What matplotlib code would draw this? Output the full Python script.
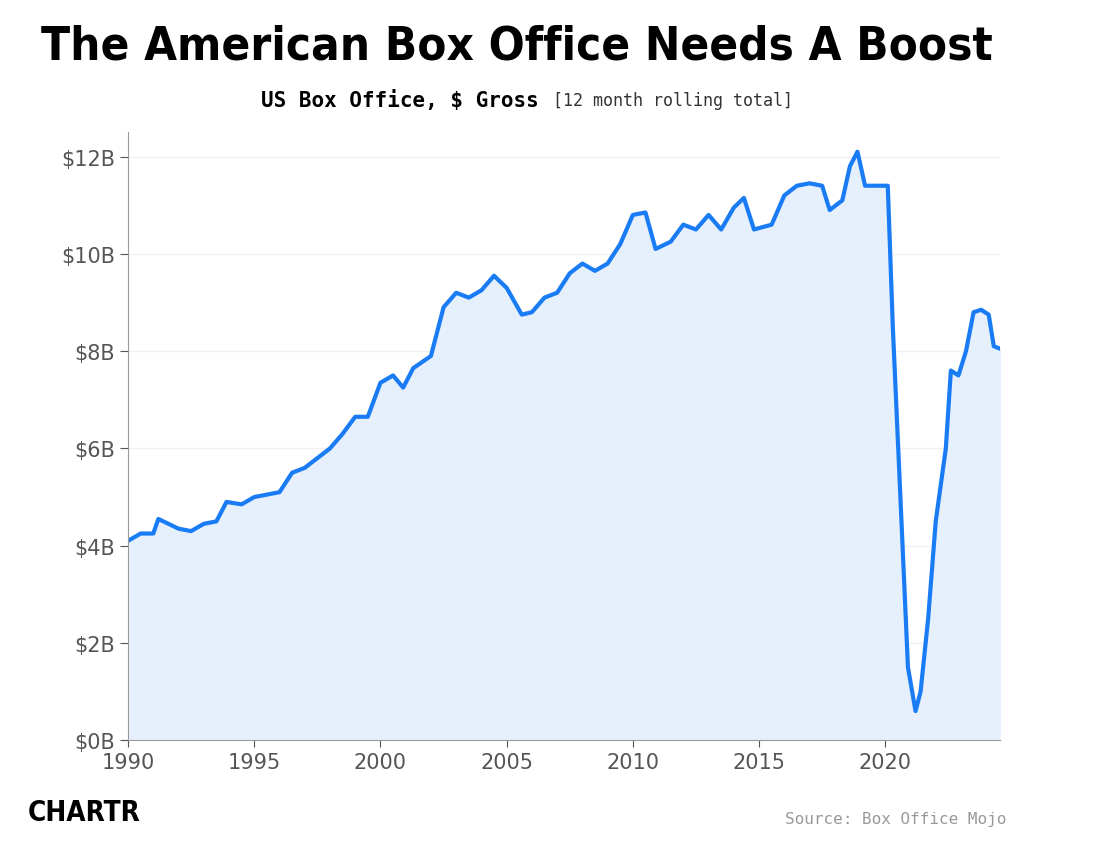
import matplotlib
matplotlib.use("Agg")
import matplotlib.pyplot as plt

years = [1990,1990.5,1991,1991.2,1991.6,1992,1992.5,1993,1993.5,1993.9,1994.5,1995,1995.5,1996,1996.5,1997,1997.5,1998,1998.5,1999,1999.5,2000,2000.5,2000.9,2001.3,2002,2002.5,2003,2003.5,2004,2004.5,2005,2005.6,2006,2006.5,2007,2007.5,2008,2008.5,2009,2009.5,2010,2010.5,2010.9,2011.5,2012,2012.5,2013,2013.5,2014,2014.4,2014.8,2015.5,2016,2016.5,2017,2017.5,2017.8,2018.3,2018.6,2018.9,2019.2,2019.6,2020.1,2020.3,2020.6,2020.9,2021.2,2021.4,2021.7,2022,2022.4,2022.6,2022.9,2023.2,2023.5,2023.8,2024.1,2024.3,2024.55]
gross = [4.1,4.25,4.25,4.55,4.45,4.35,4.3,4.45,4.5,4.9,4.85,5.0,5.05,5.1,5.5,5.6,5.8,6.0,6.3,6.65,6.65,7.35,7.5,7.25,7.65,7.9,8.9,9.2,9.1,9.25,9.55,9.3,8.75,8.8,9.1,9.2,9.6,9.8,9.65,9.8,10.2,10.8,10.85,10.1,10.25,10.6,10.5,10.8,10.5,10.95,11.15,10.5,10.6,11.2,11.4,11.45,11.4,10.9,11.1,11.8,12.1,11.4,11.4,11.4,8.5,5.0,1.5,0.6,1.0,2.5,4.5,6.0,7.6,7.5,8.0,8.8,8.85,8.75,8.1,8.05]
xticks = [1990,1995,2000,2005,2010,2015,2020]
yticks = [0,2,4,6,8,10,12]

fig = plt.figure(figsize=(11,8.54), dpi=100)
ax = fig.add_axes([0.1164, 0.132, 0.793, 0.712])
ax.fill_between(years, gross, 0, color="#e6f0fd")
ax.plot(years, gross, color="#1a7cf5", lw=3, solid_joinstyle="round")
ax.set_xlim(1990, 2024.56)
ax.set_ylim(0, 12.5)
ax.set_xticks(xticks)
ax.set_yticks(yticks)
ax.set_yticklabels([f"${v}B" for v in yticks])
for s in ["top","right"]:
    ax.spines[s].set_visible(False)
for s in ["left","bottom"]:
    ax.spines[s].set_color("#999999")
ax.grid(axis="y", color="#f0f0f0", lw=1)
ax.set_axisbelow(True)
ax.tick_params(labelsize=15, colors="#555555", labelcolor="#555555")
ax.tick_params(axis="y", length=6)
ax.tick_params(axis="x", length=5)

fig.text(0.470, 0.945, "The American Box Office Needs A Boost", ha="center", va="center",
         fontsize=34, fontweight="bold", family="DejaVu Sans", fontstretch="condensed")
fig.text(0.49, 0.882, r"US Box Office, \$ Gross", ha="right", va="center", fontsize=15,
         fontweight="bold", family="DejaVu Sans Mono")
fig.text(0.503, 0.882, "[12 month rolling total]", ha="left", va="center", fontsize=12,
         family="DejaVu Sans Mono", color="#333333")
fig.text(0.025, 0.048, "CHARTR", ha="left", va="center", fontsize=20, fontweight="heavy",
         family="DejaVu Sans", fontstretch="condensed")
fig.text(0.915, 0.04, "Source: Box Office Mojo", ha="right", va="center", fontsize=11.5,
         family="DejaVu Sans Mono", color="#999999")
fig.savefig("out.png")
